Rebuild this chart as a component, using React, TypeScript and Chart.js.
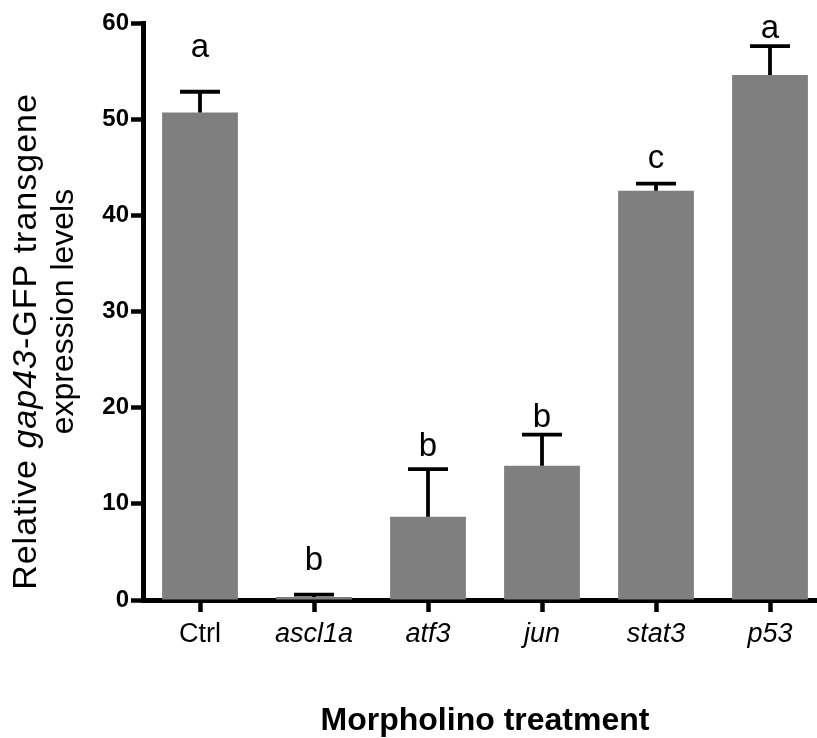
import { useEffect, useRef } from 'react';
import { Chart, registerables } from 'chart.js';

Chart.register(...registerables);

// ---- data ----
const categories = ['Ctrl', 'ascl1a', 'atf3', 'jun', 'stat3', 'p53'];
const italicCategory = [false, true, true, true, true, true];
const means = [50.7, 0.3, 8.65, 13.95, 42.55, 54.6];
const sems = [2.15, 0.25, 4.95, 3.25, 0.75, 3.0];
const sigLetters = ['a', 'b', 'b', 'b', 'c', 'a'];
const sigLetterBaseline = [56.5, 3.1, 15.0, 18.0, 44.9, 58.4];
const yMin = 0;
const yMax = 60;
const yStep = 10;
const xTitle = 'Morpholino treatment';
const yTitleLine1 = [
  { text: 'Relative ', italic: false },
  { text: 'gap43', italic: true },
  { text: '-GFP transgene', italic: false },
];
const yTitleLine2 = 'expression levels';

const FONT = '"Liberation Sans", Arial, Helvetica, sans-serif';

const errorBarPlugin = {
  id: 'errorBars',
  afterDatasetsDraw(chart: any) {
    const { ctx } = chart;
    const xs = chart.scales.x;
    const ys = chart.scales.y;
    ctx.save();
    ctx.strokeStyle = '#000';
    ctx.lineWidth = 3.8;
    ctx.lineCap = 'butt';
    means.forEach((m, i) => {
      const x = xs.getPixelForValue(i);
      const y0 = ys.getPixelForValue(m);
      const y1 = ys.getPixelForValue(m + sems[i]);
      ctx.beginPath();
      ctx.moveTo(x, y0);
      ctx.lineTo(x, y1);
      ctx.moveTo(x - 20, y1);
      ctx.lineTo(x + 20, y1);
      ctx.stroke();
    });
    ctx.fillStyle = '#000';
    ctx.font = `33px ${FONT}`;
    ctx.textAlign = 'center';
    ctx.textBaseline = 'alphabetic';
    sigLetters.forEach((s, i) => {
      const x = xs.getPixelForValue(i);
      const y = ys.getPixelForValue(sigLetterBaseline[i]);
      ctx.fillText(s, x, y);
    });
    ctx.restore();
  },
};

const yTitlePlugin = {
  id: 'yTitle',
  afterDraw(chart: any) {
    const { ctx, chartArea } = chart;
    const cy = (chartArea.top + chartArea.bottom) / 2;
    const fontFor = (it: boolean, size: number) => `${it ? 'italic ' : ''}${size}px ${FONT}`;
    ctx.save();
    ctx.fillStyle = '#000';
    ctx.textBaseline = 'alphabetic';
    ctx.textAlign = 'left';
    // line 1
    const s1 = 34;
    const c: any = ctx;
    c.letterSpacing = '1px';
    let total = 0;
    yTitleLine1.forEach((seg) => {
      ctx.font = fontFor(seg.italic, s1);
      total += ctx.measureText(seg.text).width;
    });
    ctx.save();
    ctx.translate(chartArea.left - 107, cy + 30);
    ctx.rotate(-Math.PI / 2);
    let u = -total / 2;
    yTitleLine1.forEach((seg) => {
      ctx.font = fontFor(seg.italic, s1);
      ctx.fillText(seg.text, u, 0);
      u += ctx.measureText(seg.text).width;
    });
    ctx.restore();
    c.letterSpacing = '0px';
    // line 2
    ctx.save();
    ctx.translate(chartArea.left - 70, cy);
    ctx.rotate(-Math.PI / 2);
    ctx.font = fontFor(false, 32);
    ctx.textAlign = 'center';
    ctx.fillText(yTitleLine2, 0, 0);
    ctx.restore();
    ctx.restore();
  },
};

export default function App() {
  const ref = useRef<HTMLCanvasElement | null>(null);
  useEffect(() => {
    if (!ref.current) return;
    const chart = new Chart(ref.current, {
      type: 'bar',
      data: {
        labels: categories,
        datasets: [
          {
            data: means,
            backgroundColor: '#7f7f7f',
            borderWidth: 0,
            barPercentage: 0.665,
            categoryPercentage: 1,
          },
        ],
      },
      options: {
        responsive: false,
        animation: false,
        devicePixelRatio: 1,
        layout: { padding: { left: 0, top: 23, right: 3, bottom: 0 } },
        plugins: {
          legend: { display: false },
          tooltip: { enabled: false },
          title: { display: false },
        },
        scales: {
          x: {
            type: 'category',
            offset: true,
            afterFit(scale: any) {
              scale.height = 138;
            },
            grid: {
              display: true,
              offset: false,
              drawOnChartArea: false,
              drawTicks: true,
              tickLength: 12,
              tickWidth: 4.5,
              tickColor: '#000',
              color: '#000',
            },
            border: { display: true, color: '#000', width: 5 },
            ticks: {
              color: '#000',
              padding: 6,
              maxRotation: 0,
              autoSkip: false,
              font: (c: any) => ({
                family: FONT,
                size: 27,
                style: italicCategory[c.index] ? 'italic' : 'normal',
              }),
            },
            title: {
              display: true,
              text: xTitle,
              color: '#000',
              font: { family: FONT, size: 32, weight: 'bold', lineHeight: 1.2 },
              padding: { top: 0, bottom: -2 },
            },
          },
          y: {
            min: yMin,
            max: yMax,
            afterFit(scale: any) {
              scale.width = 143;
            },
            grid: {
              display: true,
              drawOnChartArea: false,
              drawTicks: true,
              tickLength: 12,
              tickWidth: 4.5,
              tickColor: '#000',
              color: '#000',
            },
            border: { display: true, color: '#000', width: 5 },
            ticks: {
              stepSize: yStep,
              color: '#000',
              padding: 2,
              font: { family: FONT, size: 24, weight: 'bold' },
            },
          },
        },
      },
      plugins: [errorBarPlugin, yTitlePlugin],
    });
    return () => chart.destroy();
  }, []);
  return (
    <div style={{ position: 'fixed', left: 0, top: 0, width: 830, height: 738, background: '#fff' }}>
      <canvas ref={ref} width={830} height={738} style={{ display: 'block' }} />
    </div>
  );
}
